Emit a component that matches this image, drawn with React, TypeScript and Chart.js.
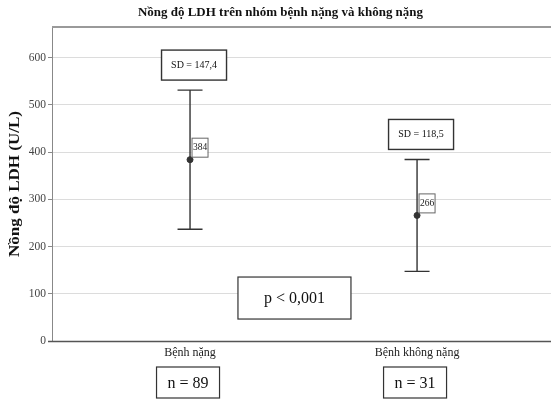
import React, { useEffect, useRef } from "react";
import { Chart, registerables } from "chart.js";

Chart.register(...registerables);

const categories = ["Bệnh nặng", "Bệnh không nặng"];
const means = [384, 266];
const sds = [147.4, 118.5];
const sdLabels = ["SD = 147,4", "SD = 118,5"];
const counts = [89, 31];
const yTicks = [0, 100, 200, 300, 400, 500, 600];
const title = "Nồng độ LDH trên nhóm bệnh nặng và không nặng";
const yTitle = "Nồng độ LDH (U/L)";
const pText = "p < 0,001";

const SERIF = "'Liberation Serif', 'DejaVu Serif', serif";

function fitText(ctx: CanvasRenderingContext2D, text: string, x: number, y: number, w: number) {
  const m = ctx.measureText(text).width;
  ctx.save();
  ctx.translate(x, y);
  ctx.scale(w / m, 1);
  ctx.fillText(text, 0, 0);
  ctx.restore();
}

export default function App() {
  const ref = useRef<HTMLCanvasElement | null>(null);
  useEffect(() => {
    const canvas = ref.current!;
    const annot = {
      id: "annot",
      afterDraw(chart: any) {
        const ctx = chart.ctx as CanvasRenderingContext2D;
        const xs = chart.scales.x;
        const ys = chart.scales.y;
        const ca = chart.chartArea;
        ctx.save();
        // top border
        ctx.strokeStyle = "#9a9a9a";
        ctx.lineWidth = 2;
        ctx.beginPath();
        ctx.moveTo(ca.left, ca.top);
        ctx.lineTo(ca.right, ca.top);
        ctx.stroke();
        // bottom axis
        ctx.strokeStyle = "#555";
        ctx.lineWidth = 1.5;
        ctx.beginPath();
        ctx.moveTo(ca.left - 4, ca.bottom + 0.5);
        ctx.lineTo(ca.right, ca.bottom + 0.5);
        ctx.stroke();
        // title
        ctx.fillStyle = "#111";
        ctx.font = `bold 13px ${SERIF}`;
        ctx.textAlign = "center";
        ctx.textBaseline = "middle";
        fitText(ctx, title, 280.5, 13, 285);
        // y title
        ctx.save();
        ctx.translate(15, (ca.top + ca.bottom) / 2);
        ctx.rotate(-Math.PI / 2);
        ctx.font = `bold 14px ${SERIF}`;
        fitText(ctx, yTitle, 0, 0, 146);
        ctx.restore();

        categories.forEach((cat, i) => {
          const px = xs.getPixelForValue(i + 1);
          const top = ys.getPixelForValue(means[i] + sds[i]);
          const bot = ys.getPixelForValue(means[i] - sds[i]);
          const my = ys.getPixelForValue(means[i]);
          // error bar
          ctx.strokeStyle = "#333";
          ctx.lineWidth = 1.4;
          ctx.beginPath();
          ctx.moveTo(px, top);
          ctx.lineTo(px, bot);
          ctx.moveTo(px - 12.5, top);
          ctx.lineTo(px + 12.5, top);
          ctx.moveTo(px - 12.5, bot);
          ctx.lineTo(px + 12.5, bot);
          ctx.stroke();
          // SD box
          const bw = 65, bh = 30;
          const bx = px + 4 - bw / 2;
          const by = top - 10 - bh;
          ctx.fillStyle = "#fff";
          ctx.fillRect(bx, by, bw, bh);
          ctx.strokeStyle = "#333";
          ctx.lineWidth = 1.4;
          ctx.strokeRect(bx, by, bw, bh);
          ctx.fillStyle = "#111";
          ctx.font = `10px ${SERIF}`;
          ctx.textAlign = "center";
          ctx.textBaseline = "middle";
          ctx.fillText(sdLabels[i], bx + bw / 2, by + bh / 2);
          // mean label
          const lw = 16, lh = 19;
          const lx = px + 1.5;
          const ly = my - 3 - lh;
          ctx.fillStyle = "#fff";
          ctx.fillRect(lx, ly, lw, lh);
          ctx.strokeStyle = "#666";
          ctx.lineWidth = 1;
          ctx.strokeRect(lx + 0.5, ly + 0.5, lw, lh);
          ctx.fillStyle = "#222";
          ctx.font = `9.5px ${SERIF}`;
          ctx.fillText(String(means[i]), lx + lw / 2 + 0.5, ly + lh / 2 + 0.5);
          // x label
          ctx.fillStyle = "#222";
          ctx.font = `12px ${SERIF}`;
          ctx.fillText(cat, px, ca.bottom + 12);
          // n box
          const nw = 63, nh = 31;
          const nx = px - 2 - nw / 2;
          const ny = ca.bottom + 26;
          ctx.fillStyle = "#fff";
          ctx.fillRect(nx, ny, nw, nh);
          ctx.strokeStyle = "#333";
          ctx.lineWidth = 1.2;
          ctx.strokeRect(nx, ny, nw, nh);
          ctx.fillStyle = "#111";
          ctx.font = `16px ${SERIF}`;
          ctx.fillText(`n = ${counts[i]}`, nx + nw / 2, ny + nh / 2 + 1);
        });

        // p box
        const pcx = xs.getPixelForValue(1.46);
        const pcy = ys.getPixelForValue(91);
        const pw = 113, ph = 42;
        ctx.fillStyle = "#fff";
        ctx.fillRect(pcx - pw / 2, pcy - ph / 2, pw, ph);
        ctx.strokeStyle = "#333";
        ctx.lineWidth = 1.2;
        ctx.strokeRect(pcx - pw / 2, pcy - ph / 2, pw, ph);
        ctx.fillStyle = "#111";
        ctx.font = `16px ${SERIF}`;
        ctx.fillText(pText, pcx, pcy + 1);
        ctx.restore();
      },
    };

    const chart = new Chart(canvas, {
      type: "scatter",
      data: {
        datasets: [
          {
            data: means.map((m, i) => ({ x: i + 1, y: m })),
            pointRadius: 3,
            pointBackgroundColor: "#333",
            pointBorderColor: "#333",
            showLine: false,
          },
        ],
      },
      options: {
        responsive: false,
        animation: false,
        layout: { autoPadding: false, padding: { top: 27, bottom: 58, left: 0, right: 0 } },
        plugins: { legend: { display: false }, tooltip: { enabled: false }, title: { display: false } },
        scales: {
          x: { type: "linear", min: 0.392, max: 2.59, display: false },
          y: {
            min: 0,
            max: 665,
            afterBuildTicks: (s: any) => {
              s.ticks = yTicks.map((v) => ({ value: v }));
            },
            afterFit: (s: any) => {
              s.width = 52;
            },
            ticks: {
              font: { family: SERIF, size: 11.5 },
              color: "#444",
              padding: 2,
            },
            grid: { color: "#dcdcdc", tickColor: "#888", tickLength: 4, lineWidth: 1 },
            border: { color: "#888", width: 1 },
          },
        },
      },
      plugins: [annot],
    } as any);
    return () => chart.destroy();
  }, []);
  return (
    <div style={{ position: "fixed", left: 0, top: 0, width: 551, height: 399, background: "#fff" }}>
      <canvas ref={ref} width={551} height={399} />
    </div>
  );
}
